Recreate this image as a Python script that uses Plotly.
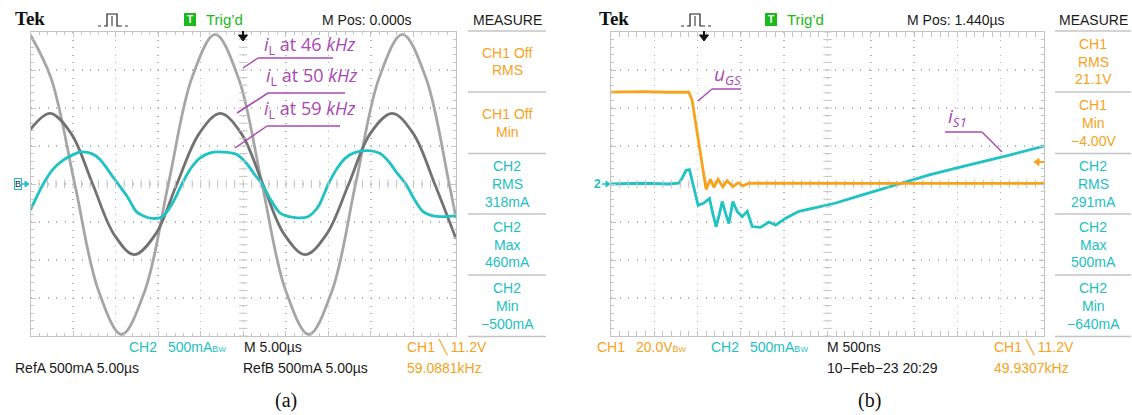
import numpy as np
import plotly.graph_objects as go

W, H = 1132, 415

# ---------------- Panel (a): time in µs, current in A ----------------
t_a46 = [-25.0, -22.55, -19.8, -17.05, -14.3, -11.55, -8.8, -6.05, -3.3, -0.55,
         2.2, 4.95, 7.7, 10.45, 13.2, 15.95, 18.7, 21.45, 24.2, 25.0]
i_a46 = [1.96, 1.38, 0.0, -1.39, -1.98, -1.40, 0.0, 1.39, 1.97, 1.39,
         0.0, -1.39, -1.98, -1.40, 0.0, 1.39, 1.97, 1.40, 0.0, -0.45]

t_a50 = [-25.0, -22.7, -20.2, -17.7, -15.2, -12.8, -10.3, -7.8, -5.2, -2.7, -0.2,
         2.3, 4.8, 7.3, 9.8, 12.4, 14.9, 17.5, 20.0, 22.5, 25.0]
i_a50 = [0.72, 0.93, 0.66, 0.0, -0.66, -0.93, -0.66, 0.0, 0.66, 0.93, 0.66,
         0.0, -0.66, -0.93, -0.66, 0.0, 0.66, 0.93, 0.66, 0.0, -0.72]

t_a59 = [-25.0, -23.5, -22.4, -21.2, -20.1, -19.2, -17.8, -16.8, -15.3, -13.6,
         -12.5, -10.9, -9.5, -8.4, -7.2, -6.2, -5.1, -3.9,
         -2.35, -0.8, 0.4, 1.3, 2.2, 3.2, 4.3, 5.9, 7.6, 8.8,
         10.0, 11.0, 12.0, 13.0, 14.6, 16.1, 17.2, 18.1, 19.1, 20.1,
         21.1, 22.3, 23.5, 25.0]
i_a59 = [-0.34, 0.0, 0.19, 0.31, 0.38, 0.42, 0.40, 0.32, 0.09, -0.17,
         -0.37, -0.45, -0.43, -0.27, 0.0, 0.20, 0.34, 0.41,
         0.42, 0.39, 0.27, 0.13, 0.0, -0.20, -0.38, -0.44, -0.43, -0.30,
         0.0, 0.20, 0.34, 0.41, 0.44, 0.40, 0.28, 0.14, 0.0, -0.20,
         -0.36, -0.42, -0.43, -0.42]

# ---------------- Panel (b): time in µs, CH1 in V, CH2 in A ----------------
t_ugs = [-1.06, -0.7, -0.4, -0.162, -0.124, -0.093, -0.066, -0.038, -0.008, 0.012,
         0.038, 0.089, 0.127, 0.177, 0.231, 0.281, 0.347, 0.409, 0.463, 0.532,
         1.0, 2.0, 3.0, 3.94]
u_gs = [48.4, 48.6, 48.3, 48.4, 44.2, 35.4, 28.4, 19.6, 10.9, 3.8,
        -2.8, 2.5, -1.7, 2.5, -1.4, 1.7, -1.4, 0.7, -1.0, 0.4,
        0.3, 0.3, 0.3, 0.3]

t_is1 = [-1.06, -0.7, -0.4, -0.278, -0.24, -0.193, -0.154, -0.124, -0.093, -0.054,
         0.012, 0.077, 0.116, 0.154, 0.185, 0.224, 0.270, 0.301, 0.347, 0.397,
         0.455, 0.513, 0.571, 0.668, 0.764, 0.841, 0.957, 1.111, 1.343, 1.536,
         1.767, 2.037, 2.307, 2.616, 2.925, 3.233, 3.542, 3.94]
i_s1 = [0.0, 0.01, 0.0, 0.01, 0.075, 0.18, 0.19, 0.05, -0.12, -0.28,
        -0.25, -0.19, -0.39, -0.56, -0.43, -0.23, -0.41, -0.52, -0.23, -0.36,
        -0.43, -0.36, -0.56, -0.57, -0.50, -0.54, -0.45, -0.36, -0.30, -0.25,
        -0.17, -0.08, 0.01, 0.12, 0.21, 0.29, 0.38, 0.50]

# ---------------- texts ----------------
top_a = ["M Pos: 0.000s"]
top_b = ["M Pos: 1.440µs"]
meas_a = [["CH1 Off", "RMS"], ["CH1 Off", "Min"], ["CH2", "RMS", "318mA"],
          ["CH2", "Max", "460mA"], ["CH2", "Min", "−500mA"]]
meas_b = [["CH1", "RMS", "21.1V"], ["CH1", "Min", "−4.00V"], ["CH2", "RMS", "291mA"],
          ["CH2", "Max", "500mA"], ["CH2", "Min", "−640mA"]]
meas_ch = ["CH1", "CH1", "CH2", "CH2", "CH2"]
labels_a = ["<i>i</i><sub>L</sub> at 46 <i>kHz</i>",
            "<i>i</i><sub>L</sub> at 50 <i>kHz</i>",
            "<i>i</i><sub>L</sub> at 59 <i>kHz</i>"]
labels_b = ["<i>u</i><sub><i>GS</i></sub>", "<i>i</i><sub><i>S1</i></sub>"]

# ---------------- styles ----------------
ORANGE = "#f7a21b"
CYAN = "#1fc3c3"
CYAN_T = "#22bfc0"
LGRAY = "#a6a6a6"
DGRAY = "#727272"
MAG = "#a848b4"
GR = "#c4c4c4"
GD = "#b5b5b5"
GREEN = "#1cb91c"
UI = "Liberation Sans, Arial, sans-serif"
SERIF = "Liberation Serif, Times New Roman, serif"
LBL = "Open Sans, Noto Sans, sans-serif"
CHCOL = {"CH1": ORANGE, "CH2": CYAN_T}


def X(px):
    return px / W


def Y(py):
    return 1 - py / H


fig = go.Figure()

# waveform traces
fig.add_trace(go.Scatter(x=t_a46, y=i_a46, xaxis="x", yaxis="y", mode="lines",
                         line=dict(color=LGRAY, width=2.8, shape="spline", smoothing=1.0)))
fig.add_trace(go.Scatter(x=t_a50, y=i_a50, xaxis="x", yaxis="y", mode="lines",
                         line=dict(color=DGRAY, width=2.8, shape="spline", smoothing=1.0)))
fig.add_trace(go.Scatter(x=t_a59, y=i_a59, xaxis="x", yaxis="y", mode="lines",
                         line=dict(color=CYAN, width=2.8, shape="spline", smoothing=0.8)))
fig.add_trace(go.Scatter(x=t_ugs, y=u_gs, xaxis="x2", yaxis="y3", mode="lines",
                         line=dict(color=ORANGE, width=2.8)))
fig.add_trace(go.Scatter(x=t_is1, y=i_s1, xaxis="x2", yaxis="y2", mode="lines",
                         line=dict(color=CYAN, width=2.8)))

# centre-cross ticks of the graticules
xa_c = np.arange(-25, 25.001, 1.0)
ya_c = np.arange(-2, 2.0001, 0.1)
xb_c = 1.44 + np.arange(-25, 26) * 0.1
tick_m = dict(color=GR, size=6, line=dict(color=GR, width=1))
fig.add_trace(go.Scatter(x=xa_c, y=np.zeros_like(xa_c), xaxis="x", yaxis="y", mode="markers",
                         marker=dict(symbol="line-ns", **tick_m)))
fig.add_trace(go.Scatter(x=np.zeros_like(ya_c), y=ya_c, xaxis="x", yaxis="y", mode="markers",
                         marker=dict(symbol="line-ew", **tick_m)))
fig.add_trace(go.Scatter(x=xb_c, y=np.zeros_like(xb_c), xaxis="x2", yaxis="y2", mode="markers",
                         marker=dict(symbol="line-ns", **tick_m)))
fig.add_trace(go.Scatter(x=np.full_like(ya_c, 1.44), y=ya_c, xaxis="x2", yaxis="y2", mode="markers",
                         marker=dict(symbol="line-ew", **tick_m)))

common = dict(showticklabels=False, showline=True, linecolor=GR, linewidth=1,
              mirror="allticks", ticks="inside", ticklen=5, tickcolor=GR,
              showgrid=True, gridcolor=GD, gridwidth=1.5, zeroline=False, fixedrange=True)
ydom = [Y(336), Y(32)]
fig.update_layout(
    xaxis=dict(domain=[X(30.5), X(456)], range=[-25, 25], dtick=5, tick0=0, anchor="y",
               griddash="1px,6.6px",
               minor=dict(dtick=1, tick0=0, ticks="inside", ticklen=3, tickcolor=GR, showgrid=False),
               **common),
    yaxis=dict(domain=ydom, range=[-2, 2], dtick=0.5, tick0=0, anchor="x",
               griddash="1px,7.5px",
               minor=dict(dtick=0.1, tick0=0, ticks="inside", ticklen=3, tickcolor=GR, showgrid=False),
               **common),
    xaxis2=dict(domain=[X(611), X(1044)], range=[-1.06, 3.94], dtick=0.5, tick0=1.44, anchor="y2",
                griddash="1px,6.6px",
                minor=dict(dtick=0.1, tick0=1.44, ticks="inside", ticklen=3, tickcolor=GR, showgrid=False),
                **common),
    yaxis2=dict(domain=ydom, range=[-2, 2], dtick=0.5, tick0=0, anchor="x2",
                griddash="1px,7.6px",
                minor=dict(dtick=0.1, tick0=0, ticks="inside", ticklen=3, tickcolor=GR, showgrid=False),
                **common),
    yaxis3=dict(domain=ydom, range=[-80, 80], overlaying="y2", anchor="x2", visible=False,
                fixedrange=True),
)

shapes = []


def line(x0, y0, x1, y1, color, width=1.0, dash=None):
    shapes.append(dict(type="line", xref="paper", yref="paper", x0=X(x0), y0=Y(y0),
                       x1=X(x1), y1=Y(y1), line=dict(color=color, width=width, dash=dash)))


def path(pts, color, fill=None, width=1.0, closed=False):
    d = "M " + " L ".join(f"{X(a):.5f},{Y(b):.5f}" for a, b in pts) + (" Z" if closed else "")
    shapes.append(dict(type="path", xref="paper", yref="paper", path=d,
                       line=dict(color=color, width=width),
                       fillcolor=fill if fill else "rgba(0,0,0,0)"))


ann = []


def txt(s, px, py, color="#1a1a1a", size=14, anchor="left", family=UI):
    ann.append(dict(text=s, x=X(px), y=Y(py), xref="paper", yref="paper", xanchor=anchor,
                    yanchor="middle", showarrow=False, font=dict(family=family, size=size, color=color)))


def pulse(x0):
    line(x0, 26, x0 + 7, 26, "#333", 1, "dot")
    path([(x0 + 7, 26), (x0 + 9, 26), (x0 + 9, 14), (x0 + 19, 14), (x0 + 19, 26), (x0 + 21, 26)], "#222", width=1.2)
    line(x0 + 14, 16, x0 + 14, 26, "#222", 1)
    line(x0 + 21, 26, x0 + 30, 26, "#333", 1, "dot")


def trig_box(x0):
    shapes.append(dict(type="rect", xref="paper", yref="paper", x0=X(x0), x1=X(x0 + 12),
                       y0=Y(26), y1=Y(13), fillcolor=GREEN, line=dict(width=0)))
    txt("<b>T</b>", x0 + 6, 19.5, "white", 10, "center")
    txt("Trig’d", x0 + 20, 19.5, GREEN, 15)


def down_arrow(x):
    line(x, 31, x, 36, "#111", 2)
    path([(x - 4.5, 35), (x + 4.5, 35), (x, 41)], "#111", fill="#111", closed=True)


def measure(x0, x1, lines, chans):
    seps = [31, 92, 153.5, 214, 275, 336.5]
    txt("MEASURE", (x0 + x1) / 2, 19.5, "#1a1a1a", 14, "center")
    for s in seps:
        line(x0, s, x1, s, GR, 1.5)
    for k, (entry, ch) in enumerate(zip(lines, chans)):
        c = (seps[k] + seps[k + 1]) / 2
        n = len(entry)
        for j, t in enumerate(entry):
            txt(t, (x0 + x1) / 2, c + (j - (n - 1) / 2) * 17.8, CHCOL[ch], 14, "center")


# ---- top bars ----
txt("<b>Tek</b>", 13, 19, "#111", 19, "left", SERIF)
txt("<b>Tek</b>", 597, 19, "#111", 19, "left", SERIF)
pulse(98)
pulse(681)
trig_box(184)
trig_box(765)
txt(top_a[0], 320, 19.5)
txt(top_b[0], 905, 19.5)
measure(468, 546, meas_a, meas_ch)
measure(1055, 1131, meas_b, meas_ch)
down_arrow(243)
down_arrow(704)

# ---- bottom status lines ----
BW = "<span style='font-size:9px'>B</span><span style='font-size:8px'>W</span>"
txt("CH2", 127, 347, CYAN_T)
txt("500mA" + BW, 166, 347, CYAN_T)
txt("M 5.00µs", 242, 347)
txt("CH1 ╲ 11.2V", 405, 347, ORANGE)
txt("RefA 500mA 5.00µs", 13, 368)
txt("RefB 500mA 5.00µs", 241, 368)
txt("59.0881kHz", 405, 368, ORANGE)
txt("(a)", 286, 400, "#111", 20, "center", SERIF)

txt("CH1", 595, 347, ORANGE)
txt("20.0V" + BW, 634, 347, ORANGE)
txt("CH2", 709, 347, CYAN_T)
txt("500mA" + BW, 748, 347, CYAN_T)
txt("M 500ns", 825, 347)
txt("10−Feb−23 20:29", 825, 368)
txt("CH1 ╲ 11.2V", 992, 347, ORANGE)
txt("49.9307kHz", 992, 368, ORANGE)
txt("(b)", 869, 400, "#111", 20, "center", SERIF)

# ---- channel / level markers ----
ann.append(dict(text="B", x=X(17.5), y=Y(184), xref="paper", yref="paper", showarrow=False,
                xanchor="center", yanchor="middle", font=dict(family=UI, size=9, color="#222"),
                bordercolor=CYAN, borderwidth=1, borderpad=0))
line(21, 184, 26, 184, CYAN, 1.5)
path([(25, 181), (29, 184), (25, 187)], CYAN, fill=CYAN, closed=True)
txt("<b>2</b>", 597.5, 184, CYAN_T, 12, "center")
line(602, 184, 607, 184, CYAN, 1.5)
path([(606, 181), (610, 184), (606, 187)], CYAN, fill=CYAN, closed=True)
path([(1034, 162), (1039, 158.5), (1039, 165.5)], ORANGE, fill=ORANGE, closed=True)
line(1038, 162, 1044, 162, ORANGE, 2)

# ---- magenta call-outs ----
lab_a_y = [45, 77, 110]
lab_a_x = [262, 264, 262]
und_a = [(258, 58, 333, 243, 68), (268, 93, 345, 237, 113), (267, 126, 340, 235, 148)]
for s, lx, ly, (ux0, uy, ux1, ex, ey) in zip(labels_a, lab_a_x, lab_a_y, und_a):
    txt(s, lx, ly, MAG, 18, "left", LBL)
    line(ux0, uy, ux1, uy, MAG, 1.5)
    line(ux0, uy, ex, ey, MAG, 1.5)

txt(labels_b[0], 712, 75, MAG, 19, "left", LBL)
line(712, 89, 741, 89, MAG, 1.5)
line(712, 89, 698, 101, MAG, 1.5)
txt(labels_b[1], 946, 117, MAG, 19, "left", LBL)
line(945, 132, 982, 132, MAG, 1.5)
line(982, 132, 1002, 152, MAG, 1.5)

fig.update_layout(width=W, height=H, margin=dict(l=0, r=0, t=0, b=0),
                  paper_bgcolor="white", plot_bgcolor="white", showlegend=False,
                  hovermode=False, shapes=shapes, annotations=ann)
fig.write_html("out.html", config={"displayModeBar": False, "staticPlot": True},
               post_script="document.body.style.margin='0';document.body.style.overflow='hidden';")
